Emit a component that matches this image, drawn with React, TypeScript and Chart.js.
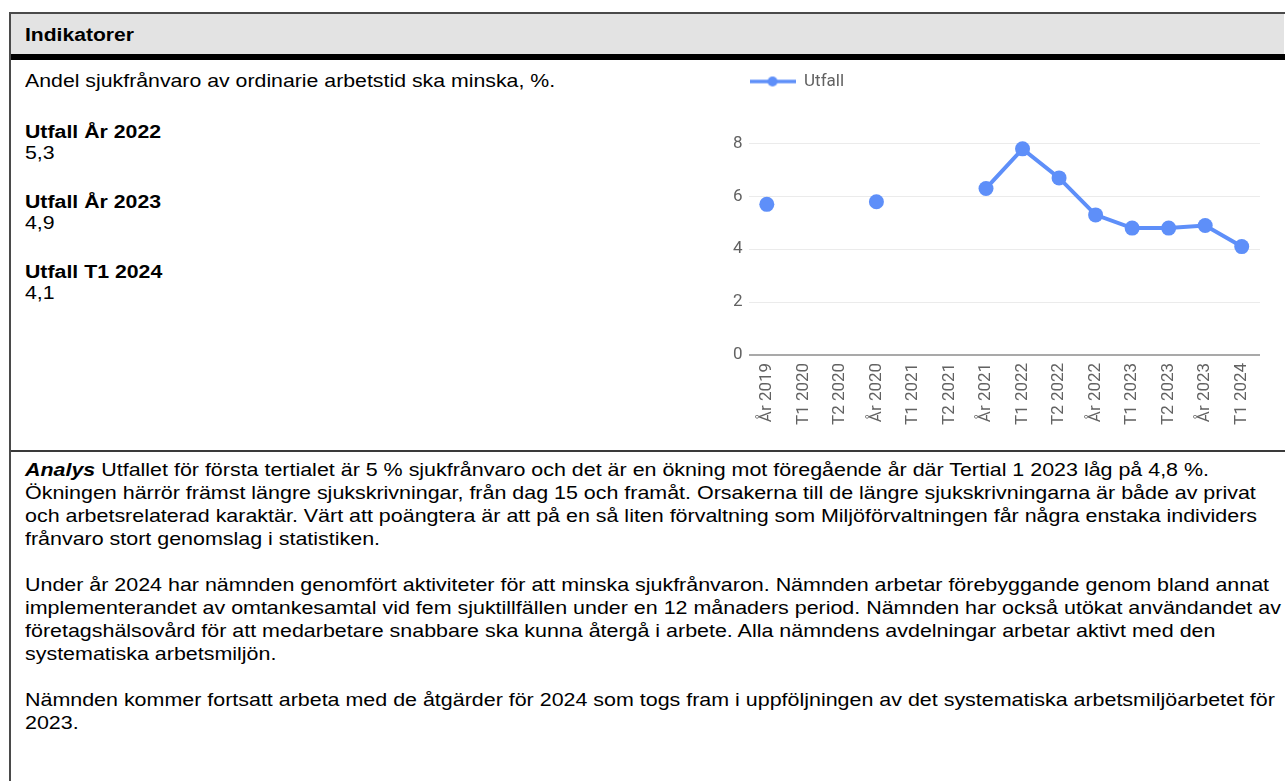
import React, { useEffect, useRef } from 'react';
import { Chart, registerables } from 'chart.js';

Chart.register(...registerables);

// ---------- data ----------
const categories: string[] = [
  'År 2019', 'T1 2020', 'T2 2020', 'År 2020', 'T1 2021', 'T2 2021', 'År 2021',
  'T1 2022', 'T2 2022', 'År 2022', 'T1 2023', 'T2 2023', 'År 2023', 'T1 2024',
];
const utfallValues: (number | null)[] = [5.7, null, null, 5.8, null, null, 6.3, 7.8, 6.7, 5.3, 4.8, 4.8, 4.9, 4.1];
const seriesLabel = 'Utfall';
const yMin = 0;
const yMax = 9.65;
const yStep = 2;

const headerTitle = 'Indikatorer';
const indicatorText = 'Andel sjukfrånvaro av ordinarie arbetstid ska minska, %.';
const summaryLabels: string[] = ['Utfall År 2022', 'Utfall År 2023', 'Utfall T1 2024'];
const summaryValues: string[] = ['5,3', '4,9', '4,1'];

const analysisLead = 'Analys';
const analysisParagraphs: string[][] = [
  [
    ' Utfallet för första tertialet är 5 % sjukfrånvaro och det är en ökning mot föregående år där Tertial 1 2023 låg på 4,8 %.',
    'Ökningen härrör främst längre sjukskrivningar, från dag 15 och framåt. Orsakerna till de längre sjukskrivningarna är både av privat',
    'och arbetsrelaterad karaktär. Värt att poängtera är att på en så liten förvaltning som Miljöförvaltningen får några enstaka individers',
    'frånvaro stort genomslag i statistiken.',
  ],
  [
    'Under år 2024 har nämnden genomfört aktiviteter för att minska sjukfrånvaron. Nämnden arbetar förebyggande genom bland annat',
    'implementerandet av omtankesamtal vid fem sjuktillfällen under en 12 månaders period. Nämnden har också utökat användandet av',
    'företagshälsovård för att medarbetare snabbare ska kunna återgå i arbete. Alla nämndens avdelningar arbetar aktivt med den',
    'systematiska arbetsmiljön.',
  ],
  [
    'Nämnden kommer fortsatt arbeta med de åtgärder för 2024 som togs fram i uppföljningen av det systematiska arbetsmiljöarbetet för',
    '2023.',
  ],
];

// ---------- styles ----------
const LINE_COLOR = '#5e8ff9';
const TICK_COLOR = '#626262';
const TEXT_FONT = '"Liberation Sans", Arial, Helvetica, sans-serif';
const FS = 18.67;

const textStyle = (left: number, top: number, sx: number, extra: React.CSSProperties = {}): React.CSSProperties => ({
  position: 'absolute',
  left,
  top,
  fontSize: FS,
  lineHeight: '23px',
  whiteSpace: 'nowrap',
  transform: `scaleX(${sx})`,
  transformOrigin: '0 0',
  color: '#000',
  ...extra,
});

function ChartBox() {
  const ref = useRef<HTMLCanvasElement | null>(null);
  useEffect(() => {
    if (!ref.current) return;
    const legendImg = document.createElement('canvas');
    legendImg.width = 46;
    legendImg.height = 14;
    const lctx = legendImg.getContext('2d')!;
    lctx.strokeStyle = LINE_COLOR;
    lctx.lineWidth = 3.5;
    lctx.beginPath();
    lctx.moveTo(0, 7);
    lctx.lineTo(46, 7);
    lctx.stroke();
    lctx.fillStyle = LINE_COLOR;
    lctx.beginPath();
    lctx.arc(23, 7, 5, 0, Math.PI * 2);
    lctx.fill();

    const legendAlign = {
      id: 'legendAlign',
      afterLayout(chart: any) {
        const lg = chart.legend;
        if (lg) {
          const dx = chart.chartArea.left - 10 + 1 - lg.left;
          lg.left += dx;
          lg.right += dx;
        }
      },
    };

    const font = { family: 'Roboto', size: 17 };
    const chart = new Chart(ref.current, {
      type: 'line',
      data: {
        labels: categories,
        datasets: [
          {
            label: seriesLabel,
            data: utfallValues,
            borderColor: LINE_COLOR,
            backgroundColor: LINE_COLOR,
            borderWidth: 4,
            pointRadius: 7.5,
            pointHoverRadius: 7.5,
            pointBorderWidth: 0,
            pointBackgroundColor: LINE_COLOR,
            spanGaps: false,
            tension: 0,
            clip: false as any,
          },
        ],
      },
      options: {
        animation: false,
        responsive: false,
        devicePixelRatio: 1,
        layout: { padding: { left: 27, right: 25, top: 0, bottom: 0 } },
        plugins: {
          legend: {
            position: 'top',
            align: 'start',
            labels: {
              usePointStyle: true,
              pointStyle: legendImg as any,
              pointStyleWidth: 46,
              padding: 10,
              font,
              color: TICK_COLOR,
            },
          },
          tooltip: { enabled: false },
        },
        scales: {
          x: {
            offset: true,
            grid: { display: false, drawTicks: false },
            border: { display: false },
            ticks: {
              autoSkip: false,
              maxRotation: 90,
              minRotation: 90,
              padding: 8,
              font,
              color: TICK_COLOR,
            },
          },
          y: {
            min: yMin,
            max: yMax,
            grid: {
              drawTicks: false,
              color: (c: any) => (c.tick && c.tick.value === 0 ? '#a9a9a9' : '#ebebeb'),
              lineWidth: (c: any) => (c.tick && c.tick.value === 0 ? 2 : 1),
            },
            border: { display: false },
            ticks: {
              stepSize: yStep,
              includeBounds: false,
              padding: 6,
              font,
              color: TICK_COLOR,
            },
          },
        },
      },
      plugins: [legendAlign],
    });
    return () => chart.destroy();
  }, []);
  return <canvas ref={ref} width={585} height={370} style={{ position: 'absolute', left: 700, top: 63 }} />;
}

export default function App() {
  const rowPitch = 23;
  const analysisTop = 458;
  const analysisSX = 1.149;
  const leftSX = 1.141;
  let row = 0;
  const analysisLines: React.ReactNode[] = [];
  analysisParagraphs.forEach((para, pi) => {
    para.forEach((line, li) => {
      const top = analysisTop + row * rowPitch;
      analysisLines.push(
        <div key={`a${pi}-${li}`} style={textStyle(25, top, analysisSX)}>
          {pi === 0 && li === 0 ? (
            <>
              <b>
                <i>{analysisLead}</i>
              </b>
              {line}
            </>
          ) : (
            line
          )}
        </div>
      );
      row += 1;
    });
    row += 1;
  });

  return (
    <div style={{ position: 'relative', width: 1285, height: 781, overflow: 'hidden', fontFamily: TEXT_FONT, background: '#fff' }}>
      <style>{'body{margin:0;}'}</style>
      {/* outer frame */}
      <div style={{ position: 'absolute', left: 9, top: 12, width: 1290, height: 800, borderTop: '2px solid #4a4a4a', borderLeft: '2px solid #4a4a4a' }} />
      {/* header */}
      <div style={{ position: 'absolute', left: 11, top: 14, width: 1273, height: 40, background: '#e3e3e3' }} />
      <div style={{ position: 'absolute', left: 11, top: 54, width: 1274, height: 6, background: '#000' }} />
      <div style={textStyle(25, 23, 1.13, { fontWeight: 'bold' })}>{headerTitle}</div>

      {/* left column */}
      <div style={textStyle(25, 69, leftSX)}>{indicatorText}</div>
      {summaryLabels.map((lab, i) => (
        <React.Fragment key={lab}>
          <div style={textStyle(25, 120 + i * 70, leftSX, { fontWeight: 'bold' })}>{lab}</div>
          <div style={textStyle(25, 141 + i * 70, leftSX)}>{summaryValues[i]}</div>
        </React.Fragment>
      ))}

      <ChartBox />

      {/* row divider */}
      <div style={{ position: 'absolute', left: 11, top: 450, width: 1274, height: 2, background: '#3a3a3a' }} />

      {analysisLines}
    </div>
  );
}
